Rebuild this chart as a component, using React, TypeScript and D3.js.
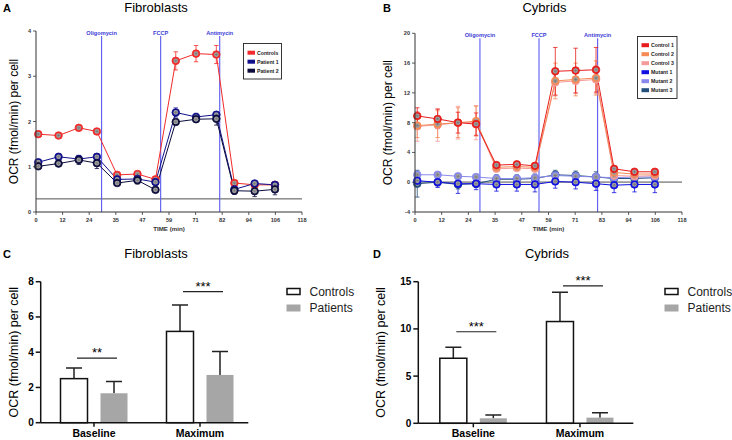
import React from "react";
import * as d3 from "d3";

// ---------- Data ----------
const times = [1, 10, 19, 27, 36, 45, 53, 62, 71, 80, 88, 97, 106];
const xTickValues = [0, 11.8, 23.6, 35.4, 47.2, 59, 70.8, 82.6, 94.4, 106.2, 118];
const xTickLabelsA = ["0", "12", "24", "35", "47", "59", "71", "82", "94", "106", "118"];
const xTickLabelsB = ["0", "12", "24", "35", "47", "59", "71", "83", "94", "106", "118"];

const injectionNames = ["Oligomycin", "FCCP", "Antimycin"];
const injectionTimesA = [29.1, 55.3, 81.5];
const injectionTimesB = [28.7, 54.8, 80.7];

// Panel A – Fibroblasts
const fibroControls = [1.72, 1.69, 1.86, 1.78, 0.82, 0.84, 0.72, 3.34, 3.5, 3.48, 0.64, 0.6, 0.6];
const fibroControlsErr = [0.05, 0.05, 0.05, 0.05, 0.05, 0.05, 0.05, 0.2, 0.18, 0.2, 0.05, 0.04, 0.04];
const fibroPatient1 = [1.1, 1.22, 1.17, 1.22, 0.72, 0.73, 0.66, 2.2, 2.1, 2.15, 0.5, 0.63, 0.6];
const fibroPatient1Err = [0.06, 0.07, 0.08, 0.07, 0.05, 0.06, 0.05, 0.1, 0.08, 0.06, 0.08, 0.05, 0.05];
const fibroPatient2 = [1.01, 1.07, 1.15, 1.08, 0.64, 0.7, 0.49, 1.99, 2.05, 2.06, 0.47, 0.46, 0.5];
const fibroPatient2Err = [0.05, 0.06, 0.1, 0.12, 0.05, 0.08, 0.04, 0.06, 0.07, 0.14, 0.08, 0.12, 0.12];
const fibroRefLine = 0.29;
const yTicksA = [0, 1, 2, 3, 4];

// Panel B – Cybrids
const cybControl1 = [8.9, 8.5, 8.0, 7.8, 2.3, 2.4, 2.2, 14.9, 15.0, 15.1, 1.8, 1.4, 1.4];
const cybControl1Err = [1.1, 1.3, 1.4, 1.5, 0.3, 0.3, 0.3, 3.2, 3.0, 3.0, 0.3, 0.3, 0.3];
const cybControl2 = [7.6, 7.8, 8.0, 8.2, 2.0, 2.1, 2.0, 13.6, 13.8, 14.0, 1.3, 1.1, 1.1];
const cybControl2Err = [1.6, 1.8, 2.0, 2.0, 0.3, 0.3, 0.3, 2.4, 2.2, 2.3, 0.3, 0.3, 0.3];
const cybControl3 = [7.5, 7.7, 8.0, 8.0, 1.8, 1.9, 1.8, 13.4, 13.6, 13.8, 0.9, 0.8, 0.9];
const cybControl3Err = [2.0, 2.2, 2.2, 2.3, 0.3, 0.3, 0.3, 1.8, 1.7, 1.9, 0.3, 0.3, 0.3];
const cybMutant1 = [0.2, 0.0, -0.2, -0.2, -0.3, -0.3, -0.3, 0.1, 0.0, -0.2, -0.4, -0.3, -0.3];
const cybMutant1Err = [0.6, 0.7, 1.3, 0.8, 0.9, 0.9, 1.0, 0.9, 0.9, 0.9, 1.0, 1.0, 1.1];
const cybMutant2 = [1.0, 1.0, 0.8, 0.7, 0.5, 0.5, 0.6, 0.9, 0.8, 0.7, 0.6, 0.7, 0.7];
const cybMutant2Err = [0.4, 0.3, 0.3, 0.3, 0.3, 0.3, 0.3, 0.5, 0.4, 0.4, 0.4, 0.4, 0.4];
const cybMutant3 = [-0.2, 0.0, -0.3, -0.2, 0.4, 0.4, 0.5, 1.0, 0.9, 0.7, 0.5, 0.5, 0.6];
const cybMutant3Err = [1.8, 0.5, 0.6, 0.5, 0.6, 0.6, 0.6, 0.6, 0.6, 0.7, 0.6, 0.6, 0.6];
const cybRefLine = 0;
const yTicksB = [-4, 0, 4, 8, 12, 16, 20];

// Panels C & D – bar charts
const groups = ["Baseline", "Maximum"];
const barSeries = ["Controls", "Patients"];
const fibroBarControls = [2.5, 5.18];
const fibroBarControlsErr = [0.6, 1.5];
const fibroBarPatients = [1.67, 2.71];
const fibroBarPatientsErr = [0.67, 1.33];
const fibroSig = ["**", "***"];
const fibroSigLevel = [3.66, 7.44];
const yTicksC = [0, 2, 4, 6, 8];

const cybBarControls = [6.89, 10.78];
const cybBarControlsErr = [1.16, 3.1];
const cybBarPatients = [0.53, 0.6];
const cybBarPatientsErr = [0.35, 0.53];
const cybSig = ["***", "***"];
const cybSigLevel = [9.7, 14.55];
const yTicksD = [0, 5, 10, 15];

const FONT = "'Liberation Sans', Arial, Helvetica, sans-serif";

type Series = { name: string; color: string; values: number[]; errors: number[] };

type LinePanelProps = {
  xRange: [number, number];
  yRange: [number, number];
  yDomain: [number, number];
  yTicks: number[];
  series: Series[];
  legendSeries: Series[];
  injTimes: number[];
  xLabels: string[];
  refValue: number;
  refColor: string;
  refWidth: number;
  legend: { x: number; y: number; w: number; h: number; first: number; step: number };
  title: string;
  letter: string;
  letterX: number;
  titleX: number;
  yLabelX: number;
};

function Marker({ cx, cy, color }: { cx: number; cy: number; color: string }) {
  return (
    <g>
      <circle cx={cx} cy={cy} r={3.8} fill={color} stroke={color} strokeWidth={0.8} />
      <circle cx={cx} cy={cy} r={2.4} fill="#a0a0a0" />
      <path d={`M${cx - 1.6},${cy} h3.2 M${cx},${cy - 1.4} v2.8`} stroke="#666" strokeWidth={0.5} />
    </g>
  );
}

function LinePanel(p: LinePanelProps) {
  const x = d3.scaleLinear().domain([0, 118]).range(p.xRange);
  const y = d3.scaleLinear().domain(p.yDomain).range(p.yRange);
  const bottom = p.yRange[0];
  const top = p.yRange[1];
  const line = (vals: number[]) =>
    d3.line<number>().x((_, i) => x(times[i])).y((v) => y(v))(vals) || "";
  const axisColor = "#333";
  return (
    <g fontFamily={FONT}>
      <text x={p.letterX} y={12} fontSize={11} fontWeight="bold">{p.letter}</text>
      <text x={p.titleX} y={12} fontSize={13} textAnchor="middle">{p.title}</text>
      <line x1={p.xRange[0]} x2={p.xRange[1]} y1={y(p.refValue)} y2={y(p.refValue)} stroke={p.refColor} strokeWidth={p.refWidth} />
      {p.injTimes.map((t, i) => (
        <g key={i}>
          <line x1={x(t)} x2={x(t)} y1={top + 5} y2={bottom} stroke="#5a5af0" strokeWidth={1.1} />
          <text x={x(t)} y={top + 4} fontSize={5.6} fontWeight="bold" fill="#3b3bd6" textAnchor="middle">{injectionNames[i]}</text>
        </g>
      ))}
      {p.series.map((s) => (
        <path key={s.name + "l"} d={line(s.values)} fill="none" stroke={s.color} strokeWidth={1} />
      ))}
      {p.series.map((s) => (
        <g key={s.name + "e"} stroke={s.color} strokeWidth={0.8}>
          {s.values.map((v, i) => {
            const cx = x(times[i]);
            const y1 = y(v + s.errors[i]);
            const y2 = y(v - s.errors[i]);
            return (
              <path key={i} d={`M${cx},${y1}V${y2}M${cx - 2.2},${y1}h4.4M${cx - 2.2},${y2}h4.4`} />
            );
          })}
        </g>
      ))}
      {p.series.map((s) => (
        <g key={s.name + "m"}>
          {s.values.map((v, i) => (
            <Marker key={i} cx={x(times[i])} cy={y(v)} color={s.color} />
          ))}
        </g>
      ))}
      <line x1={p.xRange[0]} x2={p.xRange[0]} y1={top} y2={bottom} stroke={axisColor} strokeWidth={1} />
      <line x1={p.xRange[0]} x2={p.xRange[1]} y1={bottom} y2={bottom} stroke={axisColor} strokeWidth={1} />
      {p.yTicks.map((t) => (
        <g key={t}>
          <line x1={p.xRange[0] - 3} x2={p.xRange[0]} y1={y(t)} y2={y(t)} stroke={axisColor} strokeWidth={0.8} />
          <text x={p.xRange[0] - 5} y={y(t) + 2} fontSize={5.6} fontWeight="bold" fill="#333" textAnchor="end">{t}</text>
        </g>
      ))}
      {xTickValues.map((t, i) => (
        <g key={i}>
          <line x1={x(t)} x2={x(t)} y1={bottom} y2={bottom + 3} stroke={axisColor} strokeWidth={0.8} />
          <text x={x(t)} y={bottom + 10} fontSize={5.6} fontWeight="bold" fill="#333" textAnchor="middle">{p.xLabels[i]}</text>
        </g>
      ))}
      <text x={(p.xRange[0] + p.xRange[1]) / 2} y={bottom + 19} fontSize={6.2} fontWeight="bold" fill="#333" textAnchor="middle">TIME (min)</text>
      <text transform={`translate(${p.yLabelX},${(top + bottom) / 2}) rotate(-90)`} fontSize={12} textAnchor="middle" dominantBaseline="middle">OCR (fmol/min) per cell</text>
      <rect x={p.legend.x} y={p.legend.y} width={p.legend.w} height={p.legend.h} fill="white" stroke="#222" strokeWidth={0.9} />
      {p.legendSeries.map((s, i) => (
        <g key={s.name + "lg"}>
          <rect x={p.legend.x + 4} y={p.legend.y + p.legend.first + i * p.legend.step - 2} width={7.5} height={4} fill={s.color} />
          <text x={p.legend.x + 13.5} y={p.legend.y + p.legend.first + i * p.legend.step + 2} fontSize={5.2} fontWeight="bold" fill="#222">{s.name}</text>
        </g>
      ))}
    </g>
  );
}

type BarPanelProps = {
  axisX: number;
  axisEnd: number;
  bandRange: [number, number];
  bottom: number;
  top: number;
  yMax: number;
  yTicks: number[];
  controls: number[];
  controlsErr: number[];
  patients: number[];
  patientsErr: number[];
  sig: string[];
  sigLevel: number[];
  title: string;
  titleX: number;
  letter: string;
  letterX: number;
  yLabelX: number;
  legendX: number;
};

function BarPanel(p: BarPanelProps) {
  const x0 = d3.scaleBand().domain(groups).range(p.bandRange);
  const x1 = d3.scaleBand().domain(barSeries).range([-33.5, 33.5]).paddingInner(0.325);
  const y = d3.scaleLinear().domain([0, p.yMax]).range([p.bottom, p.top]);
  const bw = x1.bandwidth();
  const center = (g: string) => (x0(g) || 0) + x0.bandwidth() / 2;
  const data = [
    { key: "Controls", vals: p.controls, errs: p.controlsErr, fill: "white", stroke: "#111" },
    { key: "Patients", vals: p.patients, errs: p.patientsErr, fill: "#a6a6a6", stroke: "none" },
  ];
  return (
    <g fontFamily={FONT}>
      <text x={p.letterX} y={258} fontSize={11} fontWeight="bold">{p.letter}</text>
      <text x={p.titleX} y={258} fontSize={13} textAnchor="middle">{p.title}</text>
      {data.map((d) =>
        groups.map((g, i) => {
          const bx = center(g) + (x1(d.key) || 0);
          const cx = bx + bw / 2;
          const yt = y(d.vals[i] + d.errs[i]);
          return (
            <g key={d.key + g}>
              <path d={`M${cx},${y(d.vals[i])}V${yt}M${cx - 8},${yt}h16`} stroke="#222" strokeWidth={1.5} fill="none" />
              <rect x={bx} y={y(d.vals[i])} width={bw} height={p.bottom - y(d.vals[i])} fill={d.fill} stroke={d.stroke} strokeWidth={1.5} />
            </g>
          );
        })
      )}
      {groups.map((g, i) => {
        const a = center(g) + (x1("Controls") || 0) + bw / 2;
        const b = center(g) + (x1("Patients") || 0) + bw / 2;
        const ly = y(p.sigLevel[i]);
        return (
          <g key={g + "sig"}>
            <line x1={a + 3} x2={b + 3} y1={ly} y2={ly} stroke="#222" strokeWidth={1.2} />
            <text x={(a + b) / 2 + 3} y={ly - 1} fontSize={13} textAnchor="middle">{p.sig[i]}</text>
          </g>
        );
      })}
      <line x1={p.axisX} x2={p.axisX} y1={p.top} y2={p.bottom} stroke="#111" strokeWidth={1.5} />
      <line x1={p.axisX} x2={p.axisEnd} y1={p.bottom} y2={p.bottom} stroke="#111" strokeWidth={1.5} />
      {p.yTicks.map((t) => (
        <g key={t}>
          <line x1={p.axisX - 5} x2={p.axisX} y1={y(t)} y2={y(t)} stroke="#111" strokeWidth={1.5} />
          <text x={p.axisX - 7} y={y(t) + 3.5} fontSize={10} fontWeight="bold" textAnchor="end">{t}</text>
        </g>
      ))}
      {groups.map((g) => (
        <g key={g + "tick"}>
          <line x1={center(g)} x2={center(g)} y1={p.bottom} y2={p.bottom + 4} stroke="#111" strokeWidth={1.5} />
          <text x={center(g)} y={p.bottom + 14} fontSize={10.5} fontWeight="bold" textAnchor="middle">{g}</text>
        </g>
      ))}
      <text transform={`translate(${p.yLabelX},${(p.top + p.bottom) / 2}) rotate(-90)`} fontSize={12.5} textAnchor="middle" dominantBaseline="middle">OCR (fmol/min) per cell</text>
      <rect x={p.legendX} y={288.5} width={13} height={6} fill="white" stroke="#111" strokeWidth={1.5} />
      <text x={p.legendX + 22.5} y={295.5} fontSize={12} fill="#222">{barSeries[0]}</text>
      <rect x={p.legendX - 0.5} y={304.5} width={14} height={7} fill="#a6a6a6" />
      <text x={p.legendX + 22.5} y={311.5} fontSize={12} fill="#222">{barSeries[1]}</text>
    </g>
  );
}

export default function App() {
  const seriesA: Series[] = [
    { name: "Controls", color: "#f22a2a", values: fibroControls, errors: fibroControlsErr },
    { name: "Patient 1", color: "#10108c", values: fibroPatient1, errors: fibroPatient1Err },
    { name: "Patient 2", color: "#0c0c3c", values: fibroPatient2, errors: fibroPatient2Err },
  ];
  const seriesB: Series[] = [
    { name: "Mutant 3", color: "#24507e", values: cybMutant3, errors: cybMutant3Err },
    { name: "Mutant 2", color: "#8888ee", values: cybMutant2, errors: cybMutant2Err },
    { name: "Mutant 1", color: "#1010e0", values: cybMutant1, errors: cybMutant1Err },
    { name: "Control 3", color: "#f59a9a", values: cybControl3, errors: cybControl3Err },
    { name: "Control 2", color: "#f58a55", values: cybControl2, errors: cybControl2Err },
    { name: "Control 1", color: "#e81c1c", values: cybControl1, errors: cybControl1Err },
  ];
  const legendOrderB = [...seriesB].reverse();
  return (
    <svg width={732} height={440} style={{ position: "absolute", left: 0, top: 0, background: "white" }}>
      <rect width={732} height={440} fill="white" />
      <LinePanel
        xRange={[36, 302]}
        yRange={[212, 31]}
        yDomain={[0, 4]}
        yTicks={yTicksA}
        series={seriesA}
        legendSeries={seriesA}
        injTimes={injectionTimesA}
        xLabels={xTickLabelsA}
        refValue={fibroRefLine}
        refColor="#222"
        refWidth={0.8}
        legend={{ x: 243.5, y: 43.5, w: 38, h: 35.5, first: 9.2, step: 9 }}
        title="Fibroblasts"
        letter="A"
        letterX={3}
        titleX={156}
        yLabelX={15}
      />
      <LinePanel
        xRange={[415, 682]}
        yRange={[212, 33.3]}
        yDomain={[-4, 20]}
        yTicks={yTicksB}
        series={seriesB}
        legendSeries={legendOrderB}
        injTimes={injectionTimesB}
        xLabels={xTickLabelsB}
        refValue={cybRefLine}
        refColor="#9a9a9a"
        refWidth={1.8}
        legend={{ x: 637.5, y: 36.5, w: 39.5, h: 62, first: 8.7, step: 9 }}
        title="Cybrids"
        letter="B"
        letterX={383}
        titleX={544.5}
        yLabelX={389}
      />
      <BarPanel
        axisX={40.7}
        axisEnd={248.3}
        bandRange={[41, 253]}
        bottom={422.7}
        top={281.7}
        yMax={8}
        yTicks={yTicksC}
        controls={fibroBarControls}
        controlsErr={fibroBarControlsErr}
        patients={fibroBarPatients}
        patientsErr={fibroBarPatientsErr}
        sig={fibroSig}
        sigLevel={fibroSigLevel}
        title="Fibroblasts"
        titleX={156}
        letter="C"
        letterX={3}
        yLabelX={15}
        legendX={287}
      />
      <BarPanel
        axisX={418.3}
        axisEnd={633.3}
        bandRange={[420, 633.3]}
        bottom={423.3}
        top={281.7}
        yMax={15}
        yTicks={yTicksD}
        controls={cybBarControls}
        controlsErr={cybBarControlsErr}
        patients={cybBarPatients}
        patientsErr={cybBarPatientsErr}
        sig={cybSig}
        sigLevel={cybSigLevel}
        title="Cybrids"
        titleX={547}
        letter="D"
        letterX={373}
        yLabelX={382}
        legendX={665}
      />
    </svg>
  );
}
